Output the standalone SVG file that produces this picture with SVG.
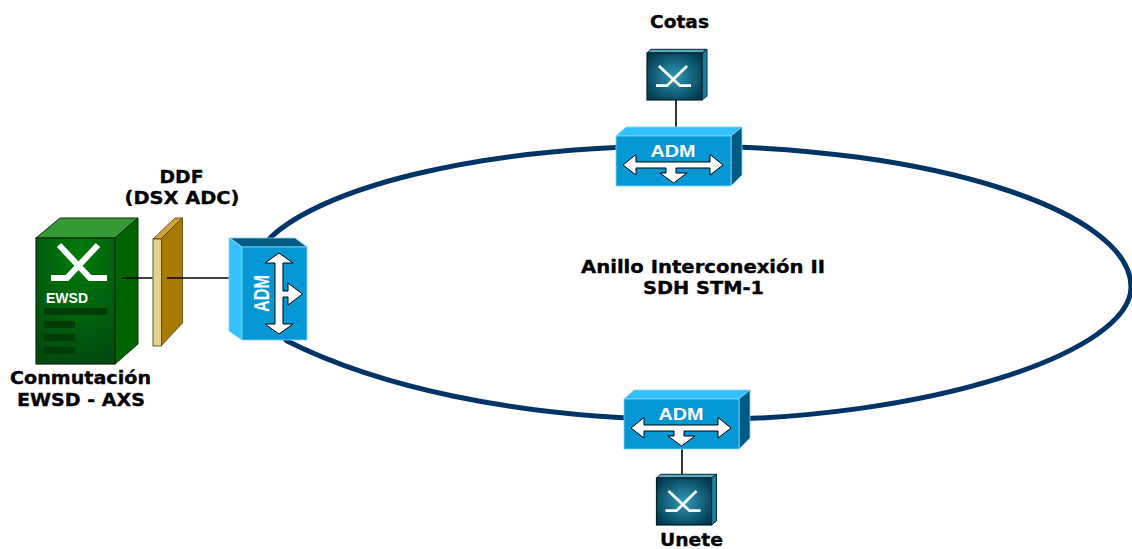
<svg xmlns="http://www.w3.org/2000/svg" width="1132" height="549" viewBox="0 0 1132 549">
<style>
.lbl{font-family:"DejaVu Sans",Verdana,sans-serif;font-weight:bold;font-size:18.500px;fill:#000;stroke:#000;stroke-width:.35;text-anchor:middle}
.adm{font-family:"Liberation Sans",Arial,sans-serif;font-weight:bold;fill:#fff;text-anchor:middle}
.ar{fill:#fff;stroke:#000;stroke-width:1}
.ln{stroke:#000;stroke-width:1.600;fill:none}
.x{fill:none;stroke:#fff;stroke-linejoin:miter}
</style>
<defs>
<radialGradient id="sw" cx="50%" cy="50%" r="62%"><stop offset="0" stop-color="#2f9ab6"/><stop offset="1" stop-color="#003a50"/></radialGradient>
<radialGradient id="gr" cx="55%" cy="15%" r="90%"><stop offset="0" stop-color="#007a0a"/><stop offset="1" stop-color="#004a10"/></radialGradient>
<g id="switch">
<path d="M647 53 651 49.300H707L702 53Z" fill="#5aa9c0" stroke="#002a38"/>
<path d="M702 53 707 49.300V96L702 100Z" fill="#1b7fa0" stroke="#002a38"/>
<rect x="647" y="53" width="55" height="47" fill="url(#sw)" stroke="#00202c" stroke-width="1.200"/>
<path class="x" stroke-width="2.800" d="M659 66 680 85.700H691M687 66 667 85.700H656"/>
</g>
<g id="admh">
<path d="M616 136 626 127H742L731 136Z" fill="#33c0ff" stroke="#7fd8ff" stroke-width=".8"/>
<path d="M731 136 742 127V175L731 186Z" fill="#005a82" stroke="#7fd8ff" stroke-width=".8"/>
<rect x="616" y="136" width="115" height="50" fill="#0597d4" stroke="#7fd8ff" stroke-width=".8"/>
<text class="adm" x="673" y="156.500" font-size="17" textLength="45" lengthAdjust="spacingAndGlyphs">ADM</text>
<path class="ar" d="M623 165 636 154.500V162H710V154.500L723 165 710 175V168H676V173H687L673.500 183 660 173H666V168H636V175Z"/>
</g>
</defs>
<g id="node-ewsd">
<path d="M36 238 60 218H138L115 238Z" fill="#359a35" stroke="#0a2a0a"/>
<path d="M115 238 138 218V344L115 364Z" fill="#006400" stroke="#0a2a0a"/>
<rect x="36" y="238" width="79" height="126" fill="url(#gr)" stroke="#0a2a0a" stroke-width="1.200"/>
<path class="x" stroke-width="6" d="M59 245 90 278H107M98 245 67 278H51"/>
<text x="46" y="303" font-family="Liberation Sans,Arial,sans-serif" font-weight="bold" font-size="14" fill="#fff">EWSD</text>
<g fill="#003c0a"><rect x="44" y="308" width="63" height="7"/><rect x="44" y="321" width="31" height="7"/><rect x="44" y="334" width="31" height="7"/><rect x="44" y="347" width="31" height="7"/></g>
<text class="lbl" x="80.500" y="384" textLength="141" lengthAdjust="spacingAndGlyphs">Conmutación</text>
<text class="lbl" x="81" y="406" textLength="128" lengthAdjust="spacingAndGlyphs">EWSD - AXS</text>
</g>
<g id="node-ddf">
<path d="M153 239 175 218H182.500L161 239Z" fill="#d3a236" stroke="#4a3a10" stroke-width=".8"/>
<path d="M161 239 182.500 218V323L161 346Z" fill="#a87c00" stroke="#4a3a10" stroke-width=".8"/>
<rect x="153" y="239" width="8.500" height="107" fill="#e8d08e" stroke="#4a3a10" stroke-width=".8"/>
<text class="lbl" x="181.500" y="182.500" textLength="44" lengthAdjust="spacingAndGlyphs">DDF</text>
<text class="lbl" x="182" y="203.500" textLength="115" lengthAdjust="spacingAndGlyphs">(DSX ADC)</text>
</g>
<g id="connectors">
<path d="M685 146C931 146 1131 211 1131 287C1131 352 930 420 690 420C510 418 375 385 287 341C262 320 245 262 270 238C320 190 470 146 685 146Z" fill="none" stroke="#003366" stroke-width="5"/>
<path class="ln" d="M122 278H152.500M167 278H229M676 100V127M682 449V475"/>
</g>
<g id="node-adm-left">
<path d="M230 238H295L307 247H242Z" fill="#005a82" stroke="#7fd8ff" stroke-width=".8"/>
<path d="M229 238 242 247V340L229 331Z" fill="#33c0ff" stroke="#7fd8ff" stroke-width=".8"/>
<rect x="242" y="247" width="65" height="93" fill="#0597d4" stroke="#7fd8ff" stroke-width=".8"/>
<text class="adm" transform="translate(269 293.500) rotate(-90)" font-size="22" textLength="37" lengthAdjust="spacingAndGlyphs">ADM</text>
<path class="ar" d="M279 253 293 263H283V291H288V283L302.500 294 288 305V297H283V324H293L279 334 265 324H275V263H265Z"/>
</g>
<g id="node-adm-top"><use href="#admh"/></g>
<g id="node-adm-bottom"><use href="#admh" x="8" y="263"/></g>
<g id="node-cotas"><use href="#switch"/><text class="lbl" x="679.500" y="27.500" textLength="59" lengthAdjust="spacingAndGlyphs">Cotas</text></g>
<g id="node-unete"><use href="#switch" x="9.500" y="425"/><text class="lbl" x="691.500" y="545.500" textLength="63" lengthAdjust="spacingAndGlyphs">Unete</text></g>
<g id="ring-label">
<text class="lbl" x="703" y="273" textLength="244" lengthAdjust="spacingAndGlyphs">Anillo Interconexión II</text>
<text class="lbl" x="703.500" y="294" textLength="121" lengthAdjust="spacingAndGlyphs">SDH STM-1</text>
</g>
</svg>
